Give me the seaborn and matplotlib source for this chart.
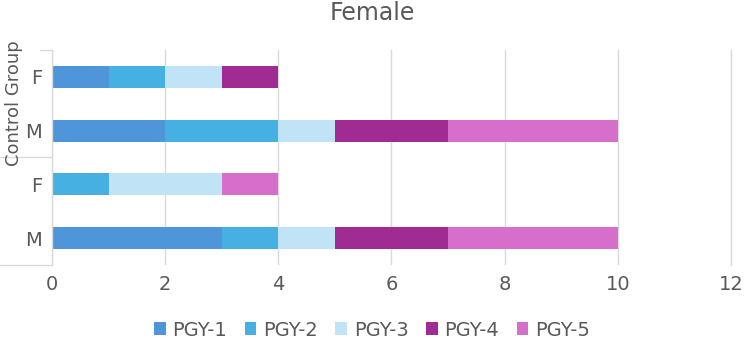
import matplotlib
matplotlib.use("Agg")
import matplotlib.pyplot as plt
from matplotlib.lines import Line2D
from matplotlib.patches import Patch
import seaborn as sns
import pandas as pd
import numpy as np

# data (rows listed top to bottom)
row_keys = ["ctrl_F", "ctrl_M", "other_F", "other_M"]
row_labels = ["F", "M", "F", "M"]
series = ["PGY-1", "PGY-2", "PGY-3", "PGY-4", "PGY-5"]
pgy1 = [1, 2, 0, 3]
pgy2 = [1, 2, 1, 1]
pgy3 = [1, 1, 2, 1]
pgy4 = [1, 2, 0, 2]
pgy5 = [0, 3, 1, 3]
colors = ["#4E95D9", "#45B0E1", "#C0E4F5", "#A02B93", "#D86ECC"]

df = pd.DataFrame({"row": row_keys, "PGY-1": pgy1, "PGY-2": pgy2,
                   "PGY-3": pgy3, "PGY-4": pgy4, "PGY-5": pgy5})
cum = df[series].cumsum(axis=1)
cum["row"] = df["row"]

sns.set_theme(style="white")
plt.rcParams["font.family"] = ["DejaVu Sans"]
text_c = "#595959"
grid_c = "#D9D9D9"

fig = plt.figure(figsize=(7.44, 3.41), dpi=100)
ax = fig.add_axes([52 / 744, 1 - 265 / 341, (731 - 52) / 744, (265 - 50) / 341])

# stacked bars: draw cumulative totals from the last series down
for name, col in reversed(list(zip(series, colors))):
    sns.barplot(data=cum, y="row", x=name, order=row_keys, orient="h",
                color=col, width=0.41, saturation=1, ax=ax, linewidth=0)

ax.set_xlim(0, 12)
ax.set_xticks(np.arange(0, 13, 2))
ax.set_yticks(range(len(row_keys)))
ax.set_yticklabels(row_labels)
ax.set_xlabel("")
ax.set_ylabel("")
ax.xaxis.grid(True, color=grid_c, linewidth=1)
ax.axvline(12, color=grid_c, linewidth=1, clip_on=False, zorder=0)
ax.set_axisbelow(True)
for s in ["top", "right", "bottom"]:
    ax.spines[s].set_visible(False)
ax.spines["left"].set_color(grid_c)
ax.spines["left"].set_linewidth(1)
ax.tick_params(axis="both", length=0, labelsize=14, colors=text_c, pad=7)
ax.tick_params(axis="y", pad=7)

# group bracket lines on the left
x0 = 52 / 744
for yy, xs in [(50, 40), (157, 0), (265, 0)]:
    fig.add_artist(Line2D([xs / 744, x0], [1 - yy / 341, 1 - yy / 341],
                          color=grid_c, linewidth=1))
fig.text(14 / 744, 1 - 103 / 341, "Control Group", rotation=90,
         ha="center", va="center", fontsize=13, color=text_c)

fig.text(0.5, 1 - 13 / 341, "Female", ha="center", va="center",
         fontsize=17, color=text_c)

handles = [Patch(facecolor=c, edgecolor="none") for c in colors]
fig.legend(handles, series, loc="center", bbox_to_anchor=(0.5, 1 - 330 / 341),
           ncol=5, frameon=False, fontsize=14, labelcolor=text_c,
           handlelength=0.6, handleheight=0.6, handletextpad=0.35,
           columnspacing=0.9)

fig.savefig("out.png", dpi=100)
